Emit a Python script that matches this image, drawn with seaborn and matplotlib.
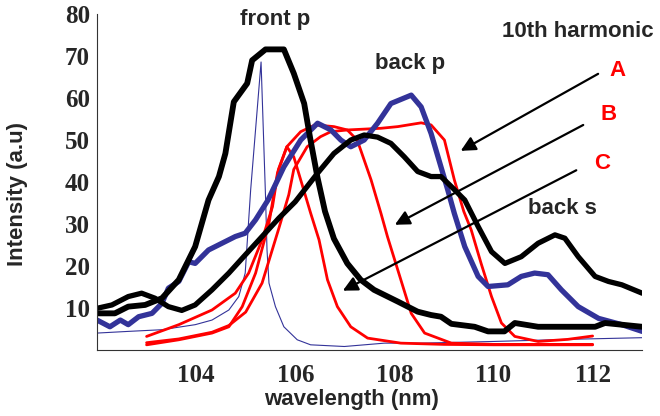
import matplotlib
matplotlib.use("Agg")
import matplotlib.pyplot as plt
import seaborn as sns
from matplotlib.ticker import MultipleLocator

# ---- data ----
# front p (black, thick)
front_x = [102.0, 102.36, 102.63, 102.97, 103.31, 103.65, 103.98, 104.25, 104.46, 104.59,
           104.76, 105.03, 105.13, 105.4, 105.77, 105.97, 106.18, 106.3, 106.45, 106.6,
           106.78, 107.05, 107.32, 107.59, 108.07, 108.47, 108.74, 108.94, 109.15, 109.62,
           109.89, 110.22, 110.43, 110.9, 112.05, 112.25, 113.0]
front_y = [8.7, 8.7, 10.3, 10.7, 12.3, 16.7, 24.6, 35.7, 41.3, 46.8,
           59.1, 63.5, 69.0, 71.6, 71.6, 65.9, 58.7, 50.5, 41.0, 33.0,
           26.5, 20.6, 16.7, 14.3, 11.5, 9.1, 8.3, 7.9, 6.2, 5.5,
           4.4, 4.4, 6.4, 5.5, 5.5, 6.4, 5.5]

# back s (black, thick)
backs_x = [102.0, 102.3, 102.63, 102.9, 103.17, 103.44, 103.71, 103.98, 104.32, 104.66,
           104.99, 105.33, 105.67, 106.0, 106.45, 106.78, 107.12, 107.39, 107.66, 107.93,
           108.2, 108.47, 108.74, 108.94, 109.15, 109.42, 109.69, 109.96, 110.23, 110.56,
           110.9, 111.24, 111.44, 111.71, 112.05, 112.32, 112.59, 113.0]
backs_y = [9.9, 10.7, 12.7, 13.5, 12.3, 10.3, 9.4, 10.7, 14.3, 18.3,
           22.6, 27.0, 31.4, 35.3, 42.1, 46.8, 50.0, 51.2, 50.7, 49.2,
           46.0, 42.5, 41.3, 41.3, 38.9, 35.7, 29.4, 23.4, 20.6, 22.2,
           25.4, 27.4, 26.6, 22.2, 17.5, 16.3, 15.5, 13.5]

# back p (blue, thick)
backp_x = [102.0, 102.26, 102.47, 102.63, 102.84, 103.11, 103.31, 103.44, 103.65, 103.85,
           103.98, 104.25, 104.52, 104.79, 104.99, 105.2, 105.45, 105.77, 106.11, 106.45,
           106.72, 106.92, 107.12, 107.39, 107.66, 107.93, 108.34, 108.54, 108.74, 108.94,
           109.08, 109.21, 109.42, 109.69, 109.89, 110.29, 110.56, 110.83, 111.1, 111.37,
           111.71, 112.12, 112.59, 113.0]
backp_y = [7.1, 5.5, 7.1, 6.0, 7.9, 8.7, 11.1, 14.7, 16.3, 21.0,
           20.6, 23.8, 25.4, 27.0, 27.8, 31.0, 35.7, 43.6, 50.0, 54.0,
           52.4, 50.0, 48.4, 50.0, 54.0, 58.7, 60.7, 57.9, 51.6, 43.6,
           38.0, 32.5, 24.6, 17.5, 15.1, 15.5, 17.5, 18.3, 17.9, 14.3,
           10.3, 7.5, 6.0, 4.4]

# thin blue spike
thin_x = [102.0, 102.63, 103.31, 103.98, 104.32, 104.66, 104.86, 104.99, 105.1, 105.31,
          105.4, 105.43, 105.47, 105.6, 105.77, 106.04, 106.31, 106.99, 107.8, 108.54,
          110.0, 111.5, 113.0]
thin_y = [4.0, 4.4, 4.8, 6.0, 7.1, 9.5, 12.7, 18.3, 38.1, 68.6,
          36.5, 23.8, 15.9, 10.3, 5.5, 2.4, 1.2, 0.8, 1.6, 1.6,
          2.0, 2.5, 2.9]

# 10th harmonic, red curves A, B, C
a_x = [103.0, 103.65, 104.32, 104.66, 105.0, 105.33, 105.67, 105.87, 105.97, 106.24,
       106.51, 106.72, 107.05, 107.73, 108.07, 108.54, 108.74, 109.01, 109.21, 109.4,
       109.55, 109.75, 109.96, 110.16, 110.43, 110.9, 111.5, 112.0]
a_y = [1.7, 2.6, 4.2, 5.8, 9.0, 15.9, 29.0, 37.0, 43.0, 48.4,
       50.8, 52.0, 52.4, 52.8, 53.2, 54.1, 53.6, 50.0, 40.5, 33.0,
       28.6, 20.6, 12.7, 6.4, 3.2, 2.0, 2.5, 3.3]

b_x = [103.0, 103.65, 104.32, 104.66, 104.93, 105.2, 105.47, 105.64, 105.83, 106.11,
       106.4, 106.78, 107.05, 107.25, 107.53, 107.73, 107.86, 108.07, 108.34, 108.61,
       109.15, 110.0, 111.0, 112.0]
b_y = [1.2, 2.4, 4.0, 5.5, 10.3, 18.3, 30.2, 42.1, 48.4, 52.0,
       53.6, 53.2, 52.4, 50.0, 40.5, 32.5, 27.0, 19.0, 8.7, 4.0,
       1.6, 1.3, 1.3, 1.3]

c_x = [103.0, 103.65, 104.32, 104.79, 105.06, 105.33, 105.54, 105.66, 105.83, 105.97,
       106.11, 106.31, 106.48, 106.65, 106.85, 107.12, 107.46, 108.13, 109.0, 110.0,
       111.0, 112.0]
c_y = [3.2, 6.0, 9.5, 13.5, 18.3, 26.2, 34.1, 43.0, 48.4, 46.0,
       40.5, 32.6, 26.2, 16.7, 10.3, 5.5, 2.8, 1.6, 1.3, 1.2,
       1.2, 1.2]

BLUE = "#333399"

sns.set_style("white")
plt.rcParams["font.family"] = ["Liberation Sans", "DejaVu Sans"]

fig = plt.figure(figsize=(6.6, 4.16), dpi=100)
ax = fig.add_axes([0.147, 0.159, 0.826, 0.807])

kw = dict(ax=ax, estimator=None, sort=False, legend=False)
sns.lineplot(x=thin_x, y=thin_y, color=BLUE, linewidth=0.8, **kw)
sns.lineplot(x=a_x, y=a_y, color="red", linewidth=2.0, **kw)
sns.lineplot(x=b_x, y=b_y, color="red", linewidth=2.0, **kw)
sns.lineplot(x=c_x, y=c_y, color="red", linewidth=2.0, **kw)
sns.lineplot(x=backp_x, y=backp_y, color=BLUE, linewidth=3.8, **kw)
sns.lineplot(x=backs_x, y=backs_y, color="black", linewidth=3.8, **kw)
sns.lineplot(x=front_x, y=front_y, color="black", linewidth=4.2, **kw)

for ln in ax.lines:
    ln.set_solid_joinstyle("round")

ax.set_xlim(102, 113)
ax.set_ylim(0, 80)
ax.xaxis.set_major_locator(MultipleLocator(2))
ax.xaxis.set_minor_locator(MultipleLocator(0.5))
ax.yaxis.set_major_locator(MultipleLocator(10))
ax.yaxis.set_minor_locator(MultipleLocator(2))
ax.set_xticks([104, 106, 108, 110, 112])
ax.set_yticks([10, 20, 30, 40, 50, 60, 70, 80])
ax.tick_params(which="major", direction="in", length=5, width=0.8, color="#333333")
ax.tick_params(which="minor", direction="in", length=3, width=0.6, color="#333333")
ax.tick_params(axis="x", which="major", pad=10)
ax.tick_params(axis="y", which="major", pad=5)
for lab in ax.get_xticklabels() + ax.get_yticklabels():
    lab.set_fontfamily("Liberation Serif")
    lab.set_fontweight("bold")
    lab.set_fontsize(18)

sns.despine(ax=ax)
for s in ["left", "bottom"]:
    ax.spines[s].set_linewidth(0.8)
    ax.spines[s].set_color("#333333")

ax.set_xlabel("wavelength (nm)", fontsize=16, fontweight="bold")
ax.set_ylabel("Intensity (a.u)", fontsize=16, fontweight="bold")
ax.xaxis.label.set_va("center")
ax.yaxis.label.set_va("center")
ax.xaxis.set_label_coords(0.466, -0.149)
ax.yaxis.set_label_coords(-0.145, 0.464)

tkw = dict(fontsize=16, fontweight="bold", ha="center", va="center")
ax.text(105.6, 78.8, "front p", **tkw)
ax.text(108.32, 68.3, "back p", **tkw)
ax.text(111.7, 75.8, "10th harmonic", **tkw)
ax.text(111.4, 33.7, "back s", **tkw)
ax.text(112.5, 66.6, "A", color="red", **tkw)
ax.text(112.32, 56.0, "B", color="red", **tkw)
ax.text(112.2, 44.5, "C", color="red", **tkw)

akw = dict(arrowstyle="-|>", color="black", lw=1.6, mutation_scale=22)
ax.annotate("", xy=(109.29, 47.1), xytext=(112.16, 66.1), arrowprops=akw)
ax.annotate("", xy=(107.96, 29.5), xytext=(111.86, 53.9), arrowprops=akw)
ax.annotate("", xy=(106.91, 13.8), xytext=(111.72, 43.1), arrowprops=akw)

fig.savefig("out.png", dpi=100)
